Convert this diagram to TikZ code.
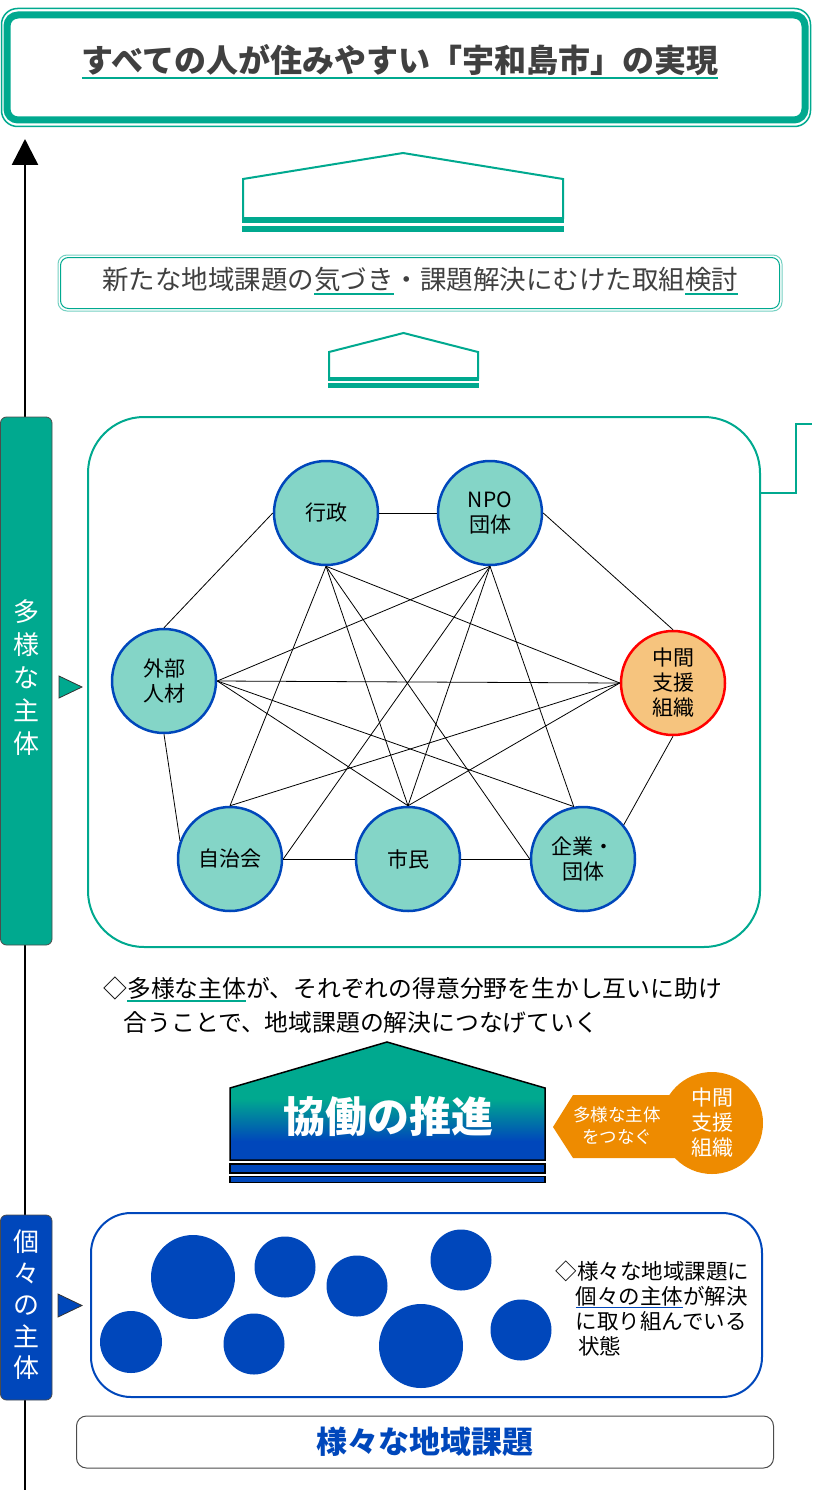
\documentclass[tikz,border=0pt]{standalone}
\usepackage{fontspec}
\setmainfont{Noto Sans CJK JP}
\usetikzlibrary{arrows.meta, shapes.geometric, positioning, calc}
\definecolor{wgreen}{HTML}{00A98F}
\definecolor{wteal}{HTML}{84D5C7}
\definecolor{wblue}{HTML}{0047BB}
\definecolor{worange}{HTML}{EE8B00}
\definecolor{wpeach}{HTML}{F6C47E}
\definecolor{wgray}{HTML}{404040}
% green at the top, blue at the bottom
\pgfdeclareverticalshading{wcoop}{100bp}{color(0bp)=(wblue); color(25bp)=(wblue); color(33bp)=(wblue); color(51bp)=(wgreen); color(75bp)=(wgreen); color(100bp)=(wgreen)}
% coloured underline
\newcommand\ulbar[2]{\leavevmode\setbox0\hbox{#2}\rlap{\color{#1}\rule[-0.2em]{\wd0}{1.8pt}}\box0}

\begin{document}
\begin{tikzpicture}[x=1pt, y=-1pt,
    actor/.style={circle, draw=wblue, line width=2.5pt, fill=wteal, minimum size=104pt, inner sep=0pt, align=center, font=\fontsize{21}{25}\selectfont},
    tie/.style={black, line width=0.8pt},
    issue/.style={circle, fill=wblue, inner sep=0pt},
    sidebar/.style={rounded corners=6pt, draw=black!70, line width=0.8pt},
    marker/.style={draw=black!80, line width=0.8pt},
]
\useasboundingbox (0,0) rectangle (812,1490);

% time axis
\coordinate (axisbot) at (25,1490);
\coordinate (axistop) at (25,139);
\draw[line width=2.5pt, -{Triangle[length=26pt, width=26pt]}] (axisbot) -- (axistop);

% goal
\draw[wgreen, line width=1.5pt, rounded corners=16pt] (1.5,8.5) rectangle (810.5,126.5);
\draw[wgreen, line width=7pt, rounded corners=11pt] (7,15) rectangle (805,120);
\node[font=\fontsize{32}{32}\selectfont\bfseries, text=wgray] (goal) at (400,62) {\ulbar{wgreen}{すべての人が住みやすい「宇和島市」の実現}};

% small houses
\draw[wgreen, line width=2pt, fill=white] (243,218) -- (243,179) -- (403,153) -- (563,179) -- (563,218) -- cycle;
\fill[wgreen] (242,218) rectangle (564,223);
\fill[wgreen] (242,225.5) rectangle (564,232);
\draw[wgreen, line width=2pt, fill=white] (329,378) -- (329,352) -- (403.5,333) -- (478,352) -- (478,378) -- cycle;
\fill[wgreen] (328,378) rectangle (479,381);
\fill[wgreen] (328,383) rectangle (479,388);

% awareness box
\draw[wgreen!55, line width=1pt, rounded corners=9pt] (58,255) rectangle (782,311);
\draw[wgreen, line width=1pt, rounded corners=8pt] (60.5,257.5) rectangle (779.5,308.5);
\node[font=\fontsize{26.5}{26.5}\selectfont, text=wgray] (task) at (420,281) {新たな地域課題の\ulbar{wgreen}{気づき}・課題解決にむけた取組\ulbar{wgreen}{検討}};

% side bars
\draw[sidebar, fill=wgreen] (0.5,417) rectangle (52,945);
\node[text=white, font=\fontsize{26}{33}\selectfont, align=center] (many) at (26,678) {多\\様\\な\\主\\体};
\draw[marker, fill=wgreen] (59,676) -- (82,687) -- (59,698) -- cycle;
\draw[sidebar, fill=wblue] (0.5,1215) rectangle (52,1400);
\node[text=white, font=\fontsize{26}{31.5}\selectfont, align=center] (each) at (26,1305) {個\\々\\の\\主\\体};
\draw[marker, fill=wblue] (58,1294) -- (82,1305.5) -- (58,1317) -- cycle;

% network of actors
\node[draw=wgreen, line width=2pt, rounded corners=56pt, minimum width=672pt, minimum height=530pt] (net) at (424,682) {};
\draw[wgreen, line width=2.5pt] ($(net.north east)+(0,77)$) -| (796,424) -- (812,424);

\node[actor] (gov) at (326,513) {行政};
\node[actor] (npo) at (490,513) {NPO\\団体};
\node[actor] (ext) at (164,681) {外部\\人材};
\node[actor, draw=red, fill=wpeach] (mid) at (673,683) {中間\\支援\\組織};
\node[actor] (town) at (230,859) {自治会};
\node[actor] (citizen) at (408,859) {市民};
\node[actor] (corp) at (583,859) {企業・\\団体};

\draw[tie] (ext.north) -- (gov.west);
\draw[tie] (gov.east) -- (npo.west);
\draw[tie] (npo.east) -- (mid.north);
\draw[tie] (ext.south) -- (town.160);
\draw[tie] (mid.south) -- (corp.40);
\draw[tie] (town.east) -- (citizen.west);
\draw[tie] (citizen.east) -- (corp.west);
\foreach \t in {town.north, citizen.north, corp.west, mid.west}
    \draw[tie] (gov.south) -- (\t);
\foreach \t in {ext.east, town.east, citizen.north, corp.100}
    \draw[tie] (npo.south) -- (\t);
\foreach \t in {mid.west, citizen.north, corp.100}
    \draw[tie] (ext.east) -- (\t);
\foreach \t in {town.north, citizen.north}
    \draw[tie] (mid.west) -- (\t);

\node[anchor=west, align=left, font=\fontsize{23.8}{34}\selectfont] (note) at (100,1005) {◇\ulbar{wgreen}{多様な主体}が、それぞれの得意分野を生かし互いに助け\\\hspace*{0.85em}合うことで、地域課題の解決につなげていく};

% cooperation
\shadedraw[shading=wcoop, draw=black, line width=1.5pt] (230,1160) -- (230,1088) -- (387,1042) -- (545,1088) -- (545,1160) -- cycle;
\draw[black, fill=wblue, line width=1.5pt] (230,1164) rectangle (545,1173);
\draw[black, fill=wblue, line width=1.5pt] (230,1176.5) rectangle (545,1182.5);
\node[text=white, font=\fontsize{42}{42}\selectfont\bfseries] (coop) at (388,1117) {協働の推進};

\fill[worange] (553,1127) -- (573,1095) -- (680,1095) -- (680,1158) -- (573,1158) -- cycle;
\node[circle, fill=worange, minimum size=102pt, inner sep=0pt, text=white, align=center, font=\fontsize{21}{25}\selectfont] (hub) at (712,1123) {中間\\支援\\組織};
\node[text=white, align=center, font=\fontsize{17.5}{22}\selectfont] (link) at (617,1126) {多様な主体\\をつなぐ};

% individual actors
\draw[wblue, line width=2pt, rounded corners=40pt] (91,1213) rectangle (762,1397);
\foreach \cx/\cy/\d [count=\i] in {193/1277/84, 285/1267/61, 357/1286/61, 461/1260/61, 131/1342/62, 254/1344/61, 421/1346/84, 521/1330/61}
    \node[issue, minimum size=\d pt] (issue\i) at (\cx,\cy) {};
\node[anchor=west, align=left, font=\fontsize{21.5}{25}\selectfont] (state) at (552,1308) {◇様々な地域課題に\\\hspace*{0.95em}\ulbar{wblue}{個々の主体}が解決\\\hspace*{0.95em}に取り組んでいる\\\hspace*{1.05em}状態};

% base
\node[draw=black!70, line width=1pt, rounded corners=10pt, minimum width=697pt, minimum height=52pt, text=wblue, font=\fontsize{31}{31}\selectfont\bfseries] (base) at (425,1442) {様々な地域課題};
\end{tikzpicture}
\end{document}
